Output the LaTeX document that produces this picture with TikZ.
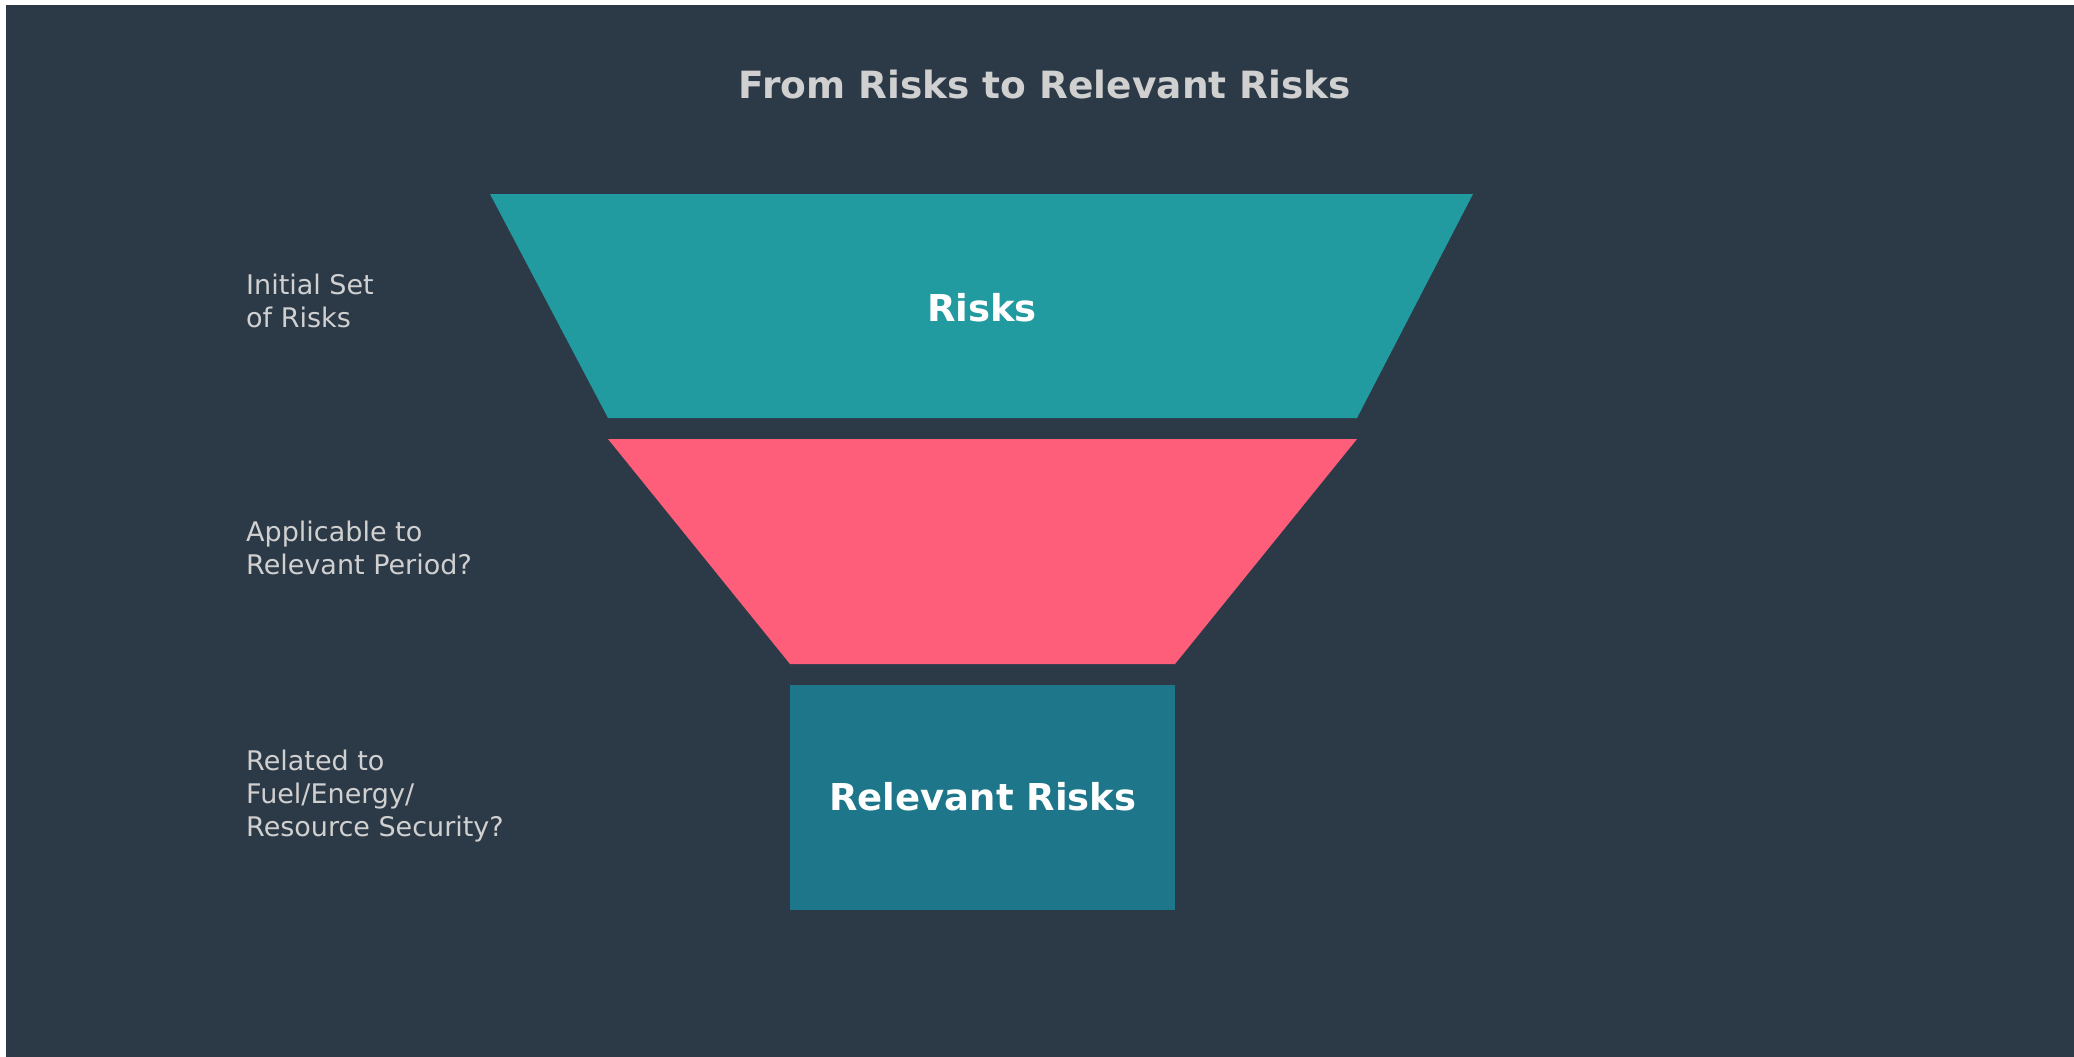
\documentclass[tikz,border=0pt]{standalone}
\usepackage{fontspec}
\setmainfont{DejaVu Sans}
\usetikzlibrary{positioning}
\definecolor{slate}{RGB}{44,58,72}
\definecolor{riskteal}{RGB}{33,154,160}
\definecolor{periodpink}{RGB}{254,94,122}
\definecolor{deepteal}{RGB}{29,118,137}
\definecolor{labelgray}{RGB}{208,208,208}

\begin{document}
\begin{tikzpicture}[
    x=1pt, y=-1pt,
    % node styles
    title/.style = {
      font=\bfseries\fontsize{37.5}{44}\selectfont,
      text=labelgray,
      anchor=base
    },
    stage/.style = {
      font=\bfseries\fontsize{37}{44}\selectfont,
      text=white,
      anchor=base
    },
    side/.style = {
      font=\fontsize{27}{33}\selectfont,
      text=labelgray,
      align=left,
      anchor=west,
      inner sep=0pt
    }
  ]
  \useasboundingbox (0,0) rectangle (2074,1057);
  \fill[white] (0,0) rectangle (2074,1057);
  \fill[slate] (6,5) rectangle (2074,1057);

  % --- Funnel
  \fill[riskteal] (490,194) -- (1473,194) -- (1357,418) -- (608,418) -- cycle;
  \fill[periodpink] (608,439) -- (1357,439) -- (1175,664) -- (790,664) -- cycle;
  \fill[deepteal] (790,685) rectangle (1175,910);

  % --- Nodes
  \node[title] (head) at (1045,98) {From Risks to Relevant Risks};

  \node[stage] (risks) at (982,321) {Risks};
  \node[stage] (relevant) at (983,810) {Relevant Risks};

  \node[side] (initial) at (246,301) {Initial Set\\of Risks};
  \node[side] (period) at (246,548) {Applicable to\\Relevant Period?};
  \node[side] (security) at (246,796) {Related to\\Fuel/Energy/\\Resource Security?};

\end{tikzpicture}
\end{document}
